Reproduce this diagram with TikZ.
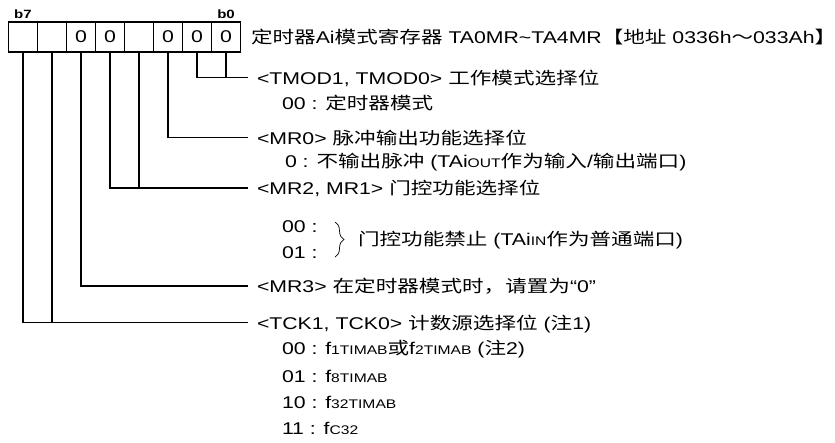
\documentclass[tikz,border=0pt]{standalone}
\usepackage{fontspec}
\setmainfont{Liberation Sans}[FakeStretch=1.25]
\newfontfamily\zhfont{Noto Sans CJK SC}[FakeStretch=1.27]
\usetikzlibrary{decorations.pathreplacing}
\newcommand\zh[1]{{\zhfont #1}}
\newcommand\sm[1]{{\fontsize{12.5}{12.5}\selectfont #1}}
\begin{document}
\begin{tikzpicture}[x=1pt,y=-1pt,line width=1.5pt,
  every node/.style={inner sep=0pt,outer sep=0pt,font=\fontsize{17}{20}\selectfont},
  lbl/.style={anchor=base west},
  cell/.style={draw,minimum width=29pt,minimum height=30pt,anchor=north west},
  bitlbl/.style={anchor=base,font=\fontsize{12}{12}\selectfont\bfseries},
  conn/.style={line width=1.5pt},
  bracestyle/.style={decorate,decoration={brace,amplitude=9pt},line width=0.7pt}]
\useasboundingbox (0,0) rectangle (835,442);
% register cells
\node[cell] (c7) at (8.5,22) {};
\node[cell] (c6) at (37.5,22) {};
\node[cell] (c5) at (66.5,22) {0};
\node[cell] (c4) at (95.5,22) {0};
\node[cell] (c3) at (124.5,22) {};
\node[cell] (c2) at (153.5,22) {0};
\node[cell] (c1) at (182.5,22) {0};
\node[cell] (c0) at (211.5,22) {0};
\node[bitlbl] (b7) at (23,18.5) {b7};
\node[bitlbl] (b0) at (226,18.5) {b0};
% title
\node[lbl] (title) at (251,43) {\zh{定时器}Ai\zh{模式寄存器} TA0MR\textasciitilde TA4MR\zh{【地址} 0336h\zh{～}033Ah\zh{】}};
% labels
\node[lbl] (tmod) at (257,84) {<TMOD1, TMOD0> \zh{工作模式选择位}};
\node[lbl] (v00a) at (282,109) {00 : \zh{定时器模式}};
\node[lbl] (mr0) at (257,144) {<MR0> \zh{脉冲输出功能选择位}};
\node[lbl] (v0) at (285,167) {0 : \zh{不输出脉冲} (TAi\sm{OUT}\zh{作为输入}/\zh{输出端口})};
\node[lbl] (mr2) at (257,194) {<MR2, MR1> \zh{门控功能选择位}};
\node[lbl] (g00) at (282,232) {00 :};
\node[lbl] (g01) at (282,258) {01 :};
\node[lbl] (gtext) at (358,245) {\zh{门控功能禁止} (TAi\sm{IN}\zh{作为普通端口})};
\node[lbl] (mr3) at (257,292) {<MR3> \zh{在定时器模式时，请置为}“0”};
\node[lbl] (tck) at (257,329) {<TCK1, TCK0> \zh{计数源选择位} (\zh{注}1)};
\node[lbl] (t00) at (282,354) {00 : f\sm{1TIMAB}\zh{或}f\sm{2TIMAB} (\zh{注}2)};
\node[lbl] (t01) at (282,382) {01 : f\sm{8TIMAB}};
\node[lbl] (t10) at (282,408) {10 : f\sm{32TIMAB}};
\node[lbl] (t11) at (282,434) {11 : f\sm{C32}};
% line ends
\coordinate (eTmod) at (248,77.5);
\coordinate (eMr0) at (248,137.5);
\coordinate (eMr2) at (248,188);
\coordinate (eMr3) at (248,286);
\coordinate (eTck) at (248,322.5);
% connectors
\draw[conn] (c1.south) |- (eTmod);
\draw[conn] (c0.south) -- (c0.south |- eTmod);
\draw[conn] (c2.south) |- (eMr0);
\draw[conn] (c4.south) |- (eMr2);
\draw[conn] (c3.south) -- (c3.south |- eMr2);
\draw[conn] (c5.south) |- (eMr3);
\draw[conn] (c7.south) |- (eTck);
\draw[conn] (c6.south) -- (c6.south |- eTck);
% brace
\coordinate (brT) at (335,222);
\coordinate (brB) at (335,257);
\draw[bracestyle] (brT) -- (brB);
\end{tikzpicture}
\end{document}
